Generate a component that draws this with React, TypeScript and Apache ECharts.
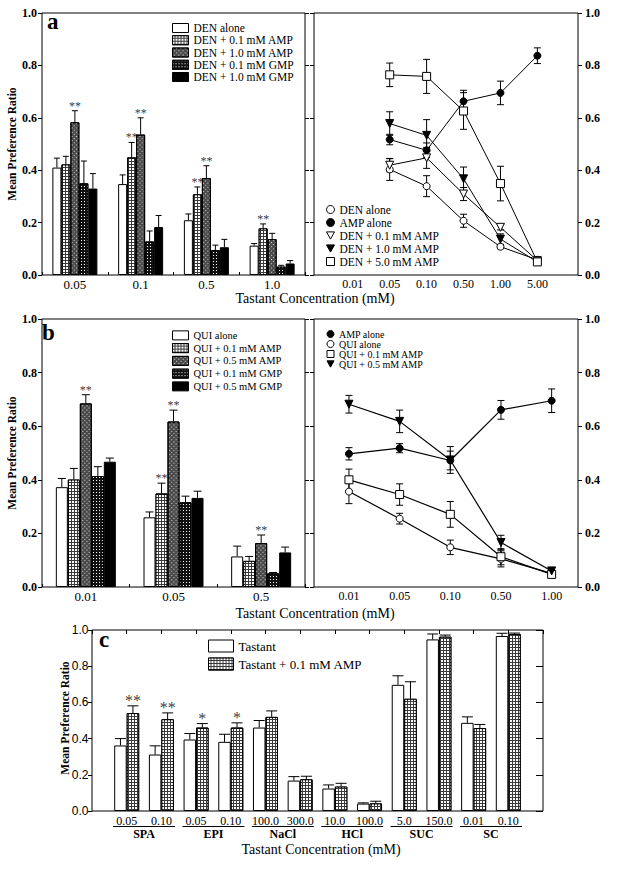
import React, { useEffect, useRef } from 'react';
import * as echarts from 'echarts';

// ---------- Panel a (left): bars ----------
const aCats = ['0.05', '0.1', '0.5', '1.0'];
const aBarNames = ['DEN alone', 'DEN + 0.1 mM AMP', 'DEN + 1.0 mM AMP', 'DEN + 0.1 mM GMP', 'DEN + 1.0 mM GMP'];
const aDenAlone = [0.41, 0.347, 0.209, 0.112];
const aDenAloneErr = [0.036, 0.035, 0.024, 0.008];
const aAmp01 = [0.422, 0.449, 0.308, 0.178];
const aAmp01Err = [0.031, 0.057, 0.028, 0.017];
const aAmp10 = [0.583, 0.536, 0.37, 0.137];
const aAmp10Err = [0.044, 0.064, 0.047, 0.022];
const aGmp01 = [0.35, 0.128, 0.095, 0.032];
const aGmp01Err = [0.085, 0.04, 0.019, 0.005];
const aGmp10 = [0.33, 0.183, 0.106, 0.044];
const aGmp10Err = [0.057, 0.044, 0.03, 0.011];
const aAmp01Stars = ['', '**', '**', '**'];
const aAmp10Stars = ['**', '**', '**', ''];

// ---------- Panel a (right): lines ----------
const aRLabels = ['0.01', '0.05', '0.10', '0.50', '1.00', '5.00'];
const aRPos = [1, 2, 3, 4, 5];
const aRNames = ['DEN alone', 'AMP alone', 'DEN + 0.1 mM AMP', 'DEN + 1.0 mM AMP', 'DEN + 5.0 mM AMP'];
const aRDen = [0.403, 0.339, 0.207, 0.108, 0.058];
const aRDenErr = [0.042, 0.04, 0.025, 0.008, 0.005];
const aRAmp = [0.517, 0.476, 0.663, 0.695, 0.837];
const aRAmpErr = [0.02, 0.028, 0.042, 0.045, 0.03];
const aRDen01 = [0.419, 0.447, 0.309, 0.182, 0.055];
const aRDen01Err = [0.025, 0.04, 0.025, 0.01, 0.005];
const aRDen10 = [0.578, 0.533, 0.367, 0.137, 0.05];
const aRDen10Err = [0.045, 0.06, 0.045, 0.02, 0.005];
const aRDen50 = [0.764, 0.758, 0.626, 0.349, 0.05];
const aRDen50Err = [0.045, 0.065, 0.07, 0.066, 0.005];

// ---------- Panel b (left): bars ----------
const bCats = ['0.01', '0.05', '0.5'];
const bBarNames = ['QUI alone', 'QUI + 0.1 mM AMP', 'QUI + 0.5 mM AMP', 'QUI + 0.1 mM GMP', 'QUI + 0.5 mM GMP'];
const bQuiAlone = [0.3725, 0.26, 0.114];
const bQuiAloneErr = [0.0325, 0.02, 0.0385];
const bAmp01 = [0.401, 0.349, 0.0975];
const bAmp01Err = [0.0415, 0.0385, 0.0165];
const bAmp05 = [0.685, 0.6175, 0.164];
const bAmp05Err = [0.0325, 0.0425, 0.03];
const bGmp01 = [0.414, 0.316, 0.051];
const bGmp01Err = [0.035, 0.023, 0.003];
const bGmp05 = [0.4675, 0.3325, 0.129];
const bGmp05Err = [0.0135, 0.025, 0.02];
const bAmp01Stars = ['', '**', ''];
const bAmp05Stars = ['**', '**', '**'];

// ---------- Panel b (right): lines ----------
const bRLabels = ['0.01', '0.05', '0.10', '0.50', '1.00'];
const bRPos = [0, 1, 2, 3, 4];
const bRNames = ['AMP alone', 'QUI alone', 'QUI + 0.1 mM AMP', 'QUI + 0.5 mM AMP'];
const bRAmp = [0.497, 0.518, 0.472, 0.661, 0.695];
const bRAmpErr = [0.023, 0.017, 0.035, 0.035, 0.044];
const bRQui = [0.356, 0.255, 0.148, 0.105, 0.051];
const bRQuiErr = [0.045, 0.02, 0.027, 0.03, 0.005];
const bRQui01 = [0.4, 0.345, 0.271, 0.113, 0.047];
const bRQui01Err = [0.04, 0.04, 0.048, 0.03, 0.005];
const bRQui05 = [0.682, 0.618, 0.474, 0.166, 0.06];
const bRQui05Err = [0.033, 0.042, 0.05, 0.027, 0.005];

// ---------- Panel c ----------
const cConc = ['0.05', '0.10', '0.05', '0.10', '100.0', '300.0', '10.0', '100.0', '5.0', '150.0', '0.01', '0.10'];
const cGroups = ['SPA', 'EPI', 'NaCl', 'HCl', 'SUC', 'SC'];
const cNames = ['Tastant', 'Tastant + 0.1 mM AMP'];
const cTastant = [0.362, 0.312, 0.395, 0.382, 0.461, 0.168, 0.124, 0.041, 0.697, 0.948, 0.487, 0.967];
const cTastantErr = [0.038, 0.048, 0.033, 0.042, 0.039, 0.022, 0.02, 0.004, 0.05, 0.03, 0.033, 0.015];
const cAmp = [0.541, 0.507, 0.461, 0.461, 0.52, 0.175, 0.135, 0.042, 0.62, 0.963, 0.458, 0.978];
const cAmpErr = [0.04, 0.035, 0.022, 0.026, 0.033, 0.017, 0.018, 0.012, 0.094, 0.009, 0.02, 0.005];
const cStars = ['**', '**', '*', '*', '', '', '', '', '', '', '', ''];

// ---------- styles ----------
const SERIF = '"Liberation Serif", "Times New Roman", serif';
const SANS = '"Liberation Sans", Arial, sans-serif';

const gridDecal = { symbol: 'rect', symbolSize: 1, color: '#ffffff', dashArrayX: [2, 1], dashArrayY: [2, 1], rotation: 0 };
const hatchDecal = { symbol: 'rect', symbolSize: 1, color: '#d8d8d8', dashArrayX: [1, 2], dashArrayY: [1, 2], rotation: Math.PI / 4 };
const darkDecal = { symbol: 'rect', symbolSize: 1, color: '#ffffff', dashArrayX: [1, 2], dashArrayY: [1, 2], rotation: 0 };

const barStyles = [
  { color: '#ffffff' },
  { color: '#3a3a3a', decal: gridDecal },
  { color: '#4a4a4a', decal: hatchDecal },
  { color: '#111111', decal: darkDecal },
  { color: '#000000' },
];

const lineMarks = [
  { symbol: 'circle', fill: '#fff', rotate: 0, size: 7 },
  { symbol: 'circle', fill: '#000', rotate: 0, size: 7 },
  { symbol: 'triangle', fill: '#fff', rotate: 180, size: 8 },
  { symbol: 'triangle', fill: '#000', rotate: 180, size: 8 },
  { symbol: 'rect', fill: '#fff', rotate: 0, size: 8 },
];
const legendIcons: Record<string, string> = {
  circle: 'circle',
  rect: 'rect',
  triangle: 'path://M0,0L10,0L5,9Z',
};

function lineEl(x1: number, y1: number, x2: number, y2: number) {
  return { type: 'line', shape: { x1, y1, x2, y2 }, style: { stroke: '#000', lineWidth: 1 } };
}

function barErr(xi: number, yi: number, vals: number[], errs: number[],
  k: number, n: number, w: number, cap: number, off: number) {
  return {
    type: 'custom', xAxisIndex: xi, yAxisIndex: yi, z: 4, silent: true,
    itemStyle: { color: '#000' },
    data: vals.map((v, i) => [i + off, v, v + errs[i]]),
    renderItem: (params: any, api: any) => {
      const idx = api.value(0);
      const v = api.value(1);
      const t = api.value(2);
      const p0 = api.coord([idx, v]);
      const p1 = api.coord([idx, t]);
      const x = p0[0] + (k - (n - 1) / 2) * w;
      return {
        type: 'group',
        children: [lineEl(x, p0[1], x, p1[1]), lineEl(x - cap / 2, p1[1], x + cap / 2, p1[1])],
      };
    },
  };
}

// significance marks: invisible points at error-bar tops carrying a text label
function starSeries(xi: number, yi: number, vals: number[], errs: number[], stars: string[],
  k: number, n: number, w: number, fontSize: number, gap: number, off: number) {
  const data: any[] = [];
  vals.forEach((v, i) => {
    if (stars[i]) data.push([i + off, v + errs[i], stars[i]]);
  });
  return {
    type: 'scatter', xAxisIndex: xi, yAxisIndex: yi, z: 6, silent: true,
    symbol: 'circle', symbolSize: 0.01, itemStyle: { color: 'transparent' },
    data,
    label: {
      show: true, position: 'top', distance: gap, offset: [(k - (n - 1) / 2) * w, 0],
      color: '#000', fontFamily: SERIF, fontSize,
      formatter: (p: any) => p.value[2],
    },
  };
}

function lineErr(xi: number, yi: number, pos: number[], vals: number[], errs: number[], cap: number) {
  return {
    type: 'custom', xAxisIndex: xi, yAxisIndex: yi, z: 2, silent: true,
    itemStyle: { color: '#000' },
    data: vals.map((v, i) => [pos[i], v, errs[i]]),
    renderItem: (params: any, api: any) => {
      const x = api.value(0);
      const y = api.value(1);
      const e = api.value(2);
      const top = api.coord([x, y + e]);
      const bot = api.coord([x, y - e]);
      const cx = top[0];
      return {
        type: 'group',
        children: [
          lineEl(cx, top[1], cx, bot[1]),
          lineEl(cx - cap / 2, top[1], cx + cap / 2, top[1]),
          lineEl(cx - cap / 2, bot[1], cx + cap / 2, bot[1]),
        ],
      };
    },
  };
}

function yAx(grid: number, pos: string, show: boolean, fontFamily: string, fontWeight: string, fontSize: number,
  margin: number, inside: boolean, len: number) {
  return {
    type: 'value', gridIndex: grid, position: pos, min: 0, max: 1, interval: 0.2,
    splitLine: { show: false }, axisLine: { show: false, onZero: false },
    axisTick: { show: true, inside, length: len, lineStyle: { color: '#000', width: 1 } },
    axisLabel: {
      show, margin, color: '#000', fontFamily, fontWeight, fontSize,
      formatter: (v: number) => v.toFixed(1),
    },
  };
}

const stripName = (name: string) => name.split('|')[1];

function buildOption() {
  const series: any[] = [];
  // panel a left bars
  const aVals = [aDenAlone, aAmp01, aAmp10, aGmp01, aGmp10];
  const aErrs = [aDenAloneErr, aAmp01Err, aAmp10Err, aGmp01Err, aGmp10Err];
  const aStars = [null, aAmp01Stars, aAmp10Stars, null, null];
  aVals.forEach((vals, k) => {
    series.push({
      type: 'bar', name: 'aL|' + aBarNames[k], xAxisIndex: 0, yAxisIndex: 0, data: vals,
      barWidth: 9, barGap: '0%', z: 2,
      itemStyle: { ...barStyles[k], borderColor: '#000', borderWidth: 1 },
    });
    series.push(barErr(0, 0, vals, aErrs[k], k, 5, 9, 6, 0));
    const st = aStars[k];
    if (st) series.push(starSeries(0, 0, vals, aErrs[k], st, k, 5, 9, 12, -1, 0));
  });
  // panel b left bars
  const bVals = [bQuiAlone, bAmp01, bAmp05, bGmp01, bGmp05];
  const bErrs = [bQuiAloneErr, bAmp01Err, bAmp05Err, bGmp01Err, bGmp05Err];
  const bStars = [null, bAmp01Stars, bAmp05Stars, null, null];
  bVals.forEach((vals, k) => {
    series.push({
      type: 'bar', name: 'bL|' + bBarNames[k], xAxisIndex: 2, yAxisIndex: 4, data: vals,
      barWidth: 12, barGap: '0%', z: 2,
      itemStyle: { ...barStyles[k], borderColor: '#000', borderWidth: 1 },
    });
    series.push(barErr(2, 4, vals, bErrs[k], k, 5, 12, 8, 0));
    const st = bStars[k];
    if (st) series.push(starSeries(2, 4, vals, bErrs[k], st, k, 5, 12, 12, -1, 0));
  });
  // panel a right lines
  const aRVals = [aRDen, aRAmp, aRDen01, aRDen10, aRDen50];
  const aRErrs = [aRDenErr, aRAmpErr, aRDen01Err, aRDen10Err, aRDen50Err];
  aRVals.forEach((vals, k) => {
    const m = lineMarks[k];
    series.push(lineErr(1, 2, aRPos, vals, aRErrs[k], 7));
    series.push({
      type: 'line', name: 'aR|' + aRNames[k], xAxisIndex: 1, yAxisIndex: 2, z: 3,
      data: vals.map((v, i) => [aRPos[i], v]),
      symbol: m.symbol, symbolSize: m.size, symbolRotate: m.rotate, showAllSymbol: true,
      itemStyle: { color: m.fill, borderColor: '#000', borderWidth: 1 },
      lineStyle: { color: '#000', width: 1 },
    });
  });
  // panel b right lines
  const bRVals = [bRAmp, bRQui, bRQui01, bRQui05];
  const bRErrs = [bRAmpErr, bRQuiErr, bRQui01Err, bRQui05Err];
  const bRMarks = [lineMarks[1], lineMarks[0], lineMarks[4], lineMarks[3]];
  bRVals.forEach((vals, k) => {
    const m = bRMarks[k];
    series.push(lineErr(3, 6, bRPos, vals, bRErrs[k], 7));
    series.push({
      type: 'line', name: 'bR|' + bRNames[k], xAxisIndex: 3, yAxisIndex: 6, z: 3,
      data: vals.map((v, i) => [bRPos[i], v]),
      symbol: m.symbol, symbolSize: m.size, symbolRotate: m.rotate, showAllSymbol: true,
      itemStyle: { color: m.fill, borderColor: '#000', borderWidth: 1 },
      lineStyle: { color: '#000', width: 1.2 },
    });
  });
  // panel c bars
  const cVals = [cTastant, cAmp];
  const cErrs = [cTastantErr, cAmpErr];
  const cStarList = [null, cStars];
  const cStyles = [barStyles[0], barStyles[1]];
  cVals.forEach((vals, k) => {
    series.push({
      type: 'bar', name: 'c|' + cNames[k], xAxisIndex: 4, yAxisIndex: 8,
      data: ['-', ...vals, '-'],
      barWidth: 12.5, barGap: '0%', z: 2,
      itemStyle: { ...cStyles[k], borderColor: '#000', borderWidth: 1 },
    });
    series.push(barErr(4, 8, vals, cErrs[k], k, 2, 12.5, 11, 1));
    const st = cStarList[k];
    if (st) series.push(starSeries(4, 8, vals, cErrs[k], st, k, 2, 12.5, 16, -3, 1));
  });

  // graphic texts
  const graphic: any[] = [
    { type: 'text', x: 47, y: 33, style: { text: 'a', font: `bold 23px ${SERIF}`, fill: '#000', verticalAlign: 'bottom' } },
    { type: 'text', x: 42, y: 344, style: { text: 'b', font: `bold 23px ${SERIF}`, fill: '#000', verticalAlign: 'bottom' } },
    { type: 'text', x: 99, y: 651, style: { text: 'c', font: `bold 23px ${SERIF}`, fill: '#000', verticalAlign: 'bottom' } },
    { type: 'text', x: 315, y: 298, style: { text: 'Tastant Concentration (mM)', font: `14px ${SERIF}`, fill: '#000', align: 'center', verticalAlign: 'middle' } },
    { type: 'text', x: 315, y: 613, style: { text: 'Tastant Concentration (mM)', font: `14px ${SERIF}`, fill: '#000', align: 'center', verticalAlign: 'middle' } },
    { type: 'text', x: 321, y: 849, style: { text: 'Tastant Concentration (mM)', font: `14px ${SERIF}`, fill: '#000', align: 'center', verticalAlign: 'middle' } },
    { type: 'text', x: 12, y: 144, rotation: Math.PI / 2, style: { text: 'Mean Preference Ratio', font: `bold 11.5px ${SERIF}`, fill: '#000', align: 'center', verticalAlign: 'middle' } },
    { type: 'text', x: 12, y: 453, rotation: Math.PI / 2, style: { text: 'Mean Preference Ratio', font: `bold 11.5px ${SERIF}`, fill: '#000', align: 'center', verticalAlign: 'middle' } },
    { type: 'text', x: 65, y: 718, rotation: Math.PI / 2, style: { text: 'Mean Preference Ratio', font: `bold 11.5px ${SERIF}`, fill: '#000', align: 'center', verticalAlign: 'middle' } },
  ];
  const cLeft = 92;
  const cStep = 451 / 13;
  cGroups.forEach((g, j) => {
    const cx = cLeft + (2 * j + 1.5) * cStep;
    graphic.push({ type: 'line', shape: { x1: cx - 31, y1: 826.5, x2: cx + 31, y2: 826.5 }, style: { stroke: '#000', lineWidth: 1 } });
    graphic.push({ type: 'text', x: cx, y: 834, style: { text: g, font: `bold 12px ${SERIF}`, fill: '#000', align: 'center', verticalAlign: 'middle' } });
  });

  const legendBase = {
    orient: 'vertical', padding: 0, selectedMode: false, formatter: stripName,
    itemStyle: { borderColor: '#000', borderWidth: 1 },
  };

  return {
    animation: false,
    backgroundColor: '#ffffff',
    grid: [
      { left: 42, top: 13, width: 263, height: 262, show: true, borderColor: '#000', borderWidth: 1, backgroundColor: 'transparent' },
      { left: 314, top: 13, width: 264, height: 262, show: true, borderColor: '#000', borderWidth: 1, backgroundColor: 'transparent' },
      { left: 42, top: 319, width: 263, height: 268, show: true, borderColor: '#000', borderWidth: 1, backgroundColor: 'transparent' },
      { left: 314, top: 319, width: 264, height: 268, show: true, borderColor: '#000', borderWidth: 1, backgroundColor: 'transparent' },
      { left: 92, top: 630, width: 451, height: 181, show: true, borderColor: '#000', borderWidth: 1, backgroundColor: 'transparent' },
    ],
    xAxis: [
      {
        type: 'category', gridIndex: 0, data: aCats, axisLine: { show: false, onZero: false },
        axisTick: { show: true, inside: true, length: 3, lineStyle: { color: '#000' } },
        axisLabel: { color: '#000', fontFamily: SERIF, fontSize: 13, margin: 3 },
      },
      {
        type: 'value', gridIndex: 1, min: -1.05, max: 6.1, axisLine: { show: false, onZero: false }, splitLine: { show: false },
        axisTick: { show: false },
        axisLabel: {
          customValues: [0, 1, 2, 3, 4, 5], color: '#000', fontFamily: SERIF, fontSize: 12, margin: 3,
          formatter: (v: number) => aRLabels[Math.round(v)] ?? '',
        },
      },
      {
        type: 'category', gridIndex: 2, data: bCats, axisLine: { show: false, onZero: false },
        axisTick: { show: true, inside: true, length: 3, lineStyle: { color: '#000' } },
        axisLabel: { color: '#000', fontFamily: SERIF, fontSize: 13, margin: 3 },
      },
      {
        type: 'value', gridIndex: 3, min: -0.69, max: 4.52, axisLine: { show: false, onZero: false }, splitLine: { show: false },
        axisTick: { show: false },
        axisLabel: {
          customValues: [0, 1, 2, 3, 4], color: '#000', fontFamily: SERIF, fontSize: 12, margin: 3,
          formatter: (v: number) => bRLabels[Math.round(v)] ?? '',
        },
      },
      {
        type: 'category', gridIndex: 4, position: 'bottom', boundaryGap: false, data: ['', ...cConc, ''],
        axisLine: { show: false, onZero: false }, axisTick: { show: false },
        axisLabel: { interval: 0, color: '#000', fontFamily: SERIF, fontSize: 12, margin: 4 },
      },
      {
        type: 'category', gridIndex: 4, position: 'top', boundaryGap: false, data: ['', ...cConc, ''],
        axisLine: { show: false, onZero: false },
        axisTick: { show: true, inside: true, interval: 0, length: 4, lineStyle: { color: '#000' } },
        axisLabel: { show: false },
      },
    ],
    yAxis: [
      yAx(0, 'left', true, SERIF, 'bold', 12, 5, false, 4),
      yAx(0, 'right', false, SERIF, 'bold', 12, 5, false, 4),
      yAx(1, 'left', false, SERIF, 'bold', 12, 5, false, 4),
      yAx(1, 'right', true, SERIF, 'bold', 12, 7, false, 4),
      yAx(2, 'left', true, SERIF, 'bold', 12, 5, false, 4),
      yAx(2, 'right', false, SERIF, 'bold', 12, 5, false, 4),
      yAx(3, 'left', false, SERIF, 'bold', 12, 5, false, 4),
      yAx(3, 'right', true, SERIF, 'bold', 12, 7, false, 4),
      yAx(4, 'left', true, SANS, 'normal', 12, 3.5, false, 4),
      yAx(4, 'right', false, SANS, 'normal', 12, 3, true, 7),
    ],
    legend: [
      {
        ...legendBase, left: 172, top: 22, itemWidth: 16, itemHeight: 9, itemGap: 0.25, itemTextGap: 7, icon: 'rect',
        data: aBarNames.map((n) => 'aL|' + n),
        textStyle: { fontFamily: SERIF, fontSize: 11.5, lineHeight: 12, color: '#000' },
      },
      {
        ...legendBase, left: 172, top: 329, itemWidth: 16, itemHeight: 9, itemGap: 0, itemTextGap: 7, icon: 'rect',
        data: bBarNames.map((n) => 'bL|' + n),
        textStyle: { fontFamily: SERIF, fontSize: 10.5, lineHeight: 12.75, color: '#000' },
      },
      {
        ...legendBase, left: 326, top: 203, itemWidth: 8, itemHeight: 8, itemGap: 0, itemTextGap: 5,
        data: aRNames.map((n, k) => ({ name: 'aR|' + n, icon: legendIcons[lineMarks[k].symbol] })),
        textStyle: { fontFamily: SERIF, fontSize: 11.5, lineHeight: 13, color: '#000' },
      },
      {
        ...legendBase, left: 326.5, top: 329, itemWidth: 7, itemHeight: 7, itemGap: 0, itemTextGap: 4,
        data: bRNames.map((n, k) => ({ name: 'bR|' + n, icon: legendIcons[bRMarks[k].symbol] })),
        textStyle: { fontFamily: SERIF, fontSize: 10, lineHeight: 10, color: '#000' },
      },
      {
        ...legendBase, left: 208, top: 639, itemWidth: 25, itemHeight: 12, itemGap: 4, itemTextGap: 7, icon: 'rect',
        data: cNames.map((n) => 'c|' + n),
        textStyle: { fontFamily: SERIF, fontSize: 13, lineHeight: 14, color: '#000' },
      },
    ],
    graphic,
    series,
  };
}

export default function App() {
  const ref = useRef<HTMLDivElement>(null);
  useEffect(() => {
    if (!ref.current) return;
    const chart = echarts.init(ref.current, null, { renderer: 'svg' });
    chart.setOption(buildOption() as any);
    return () => chart.dispose();
  }, []);
  return (
    <div
      ref={ref}
      style={{ position: 'fixed', left: 0, top: 0, width: 621, height: 871, background: '#ffffff' }}
    />
  );
}
